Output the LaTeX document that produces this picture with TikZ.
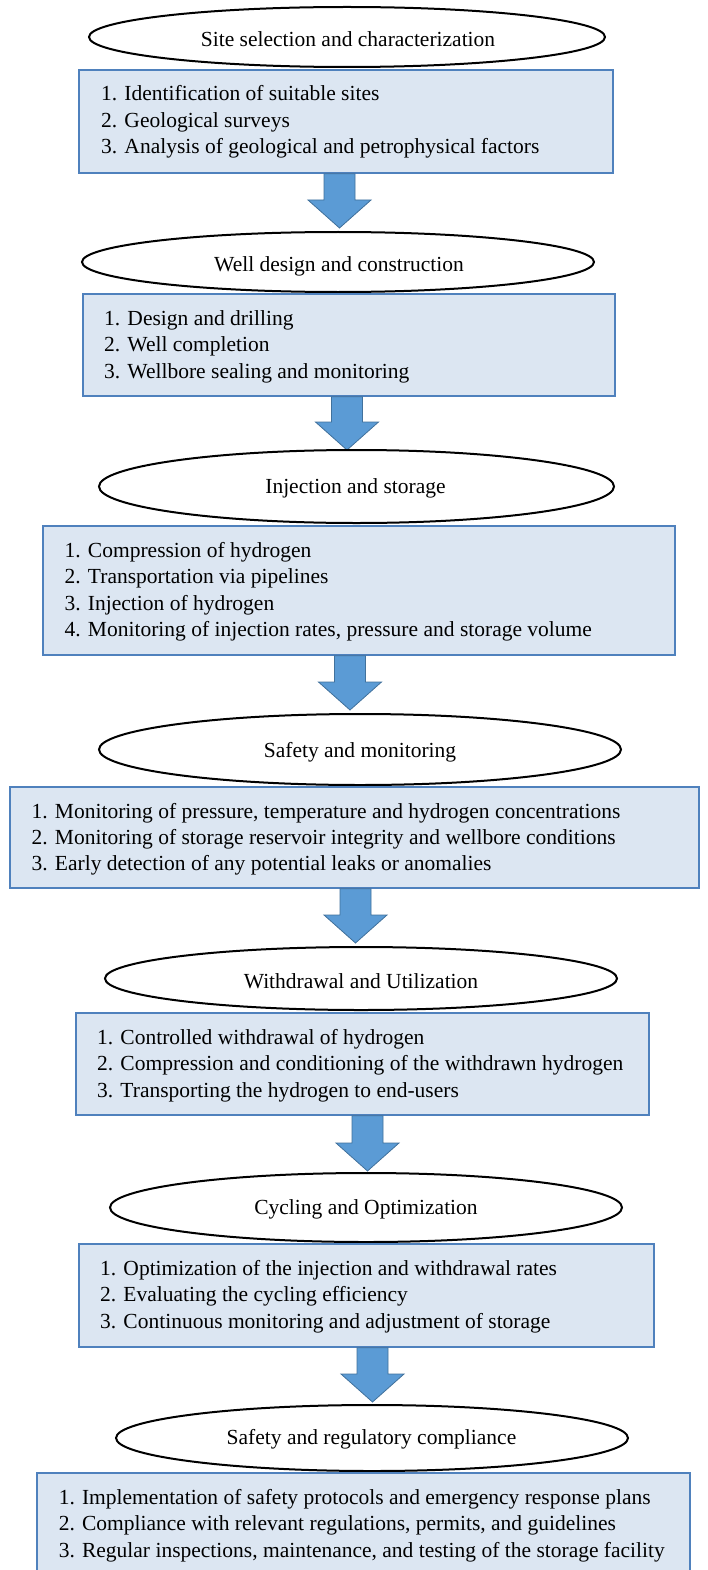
\documentclass[tikz,border=0pt]{standalone}
\usepackage{fontspec}
\setmainfont{Liberation Serif}
\usetikzlibrary{calc,shapes.geometric}
\definecolor{boxfill}{HTML}{DCE6F2}
\definecolor{boxline}{HTML}{4F81BD}
\definecolor{arrfill}{HTML}{5B9BD5}
\definecolor{arrline}{HTML}{41719C}
\newcommand\blockarrow[2]{%
  \path[barrow] let \p1=(#1), \p2=(#2) in
   (\x2-15.5pt,\y1) -- (\x2+15.5pt,\y1) -- (\x2+15.5pt,\y2+28pt) -- (\x2+31.5pt,\y2+28pt)
   -- (\x2,\y2) -- (\x2-31.5pt,\y2+28pt) -- (\x2-15.5pt,\y2+28pt) -- cycle;}
\begin{document}
\begin{tikzpicture}[x=1pt,y=-1pt,
  ell/.style={draw=black, line width=2pt, fill=white, ellipse, inner sep=0pt},
  stepbox/.style={draw=boxline, line width=1.6pt, fill=boxfill, rectangle, inner sep=0pt},
  item/.style={anchor=base west, inner sep=0pt, font=\fontsize{21.5}{26}\selectfont},
  ttl/.style={anchor=base, inner sep=0pt, font=\fontsize{21.5}{26}\selectfont},
  barrow/.style={fill=arrfill, draw=arrline, line width=0.8pt, line join=miter}]
\useasboundingbox (0,0) rectangle (707,1570);
\fill[white] (0,0) rectangle (707,1570);

% ---- stage 1
\node[ell, minimum width=516pt, minimum height=60pt] (e1) at (347,37) {};
\node[ttl] (e1t) at (348,47) {Site selection and characterization};
\node[stepbox, minimum width=534pt, minimum height=103pt] (b1) at (346,121.5) {};
\node[item] (b1a) at (101,101) {1. Identification of suitable sites};
\node[item] (b1b) at (101,127.5) {2. Geological surveys};
\node[item] (b1c) at (101,154) {3. Analysis of geological and petrophysical factors};
\coordinate (t1) at (339.5,228);
\blockarrow{b1.south}{t1}

% ---- stage 2
\node[ell, minimum width=512pt, minimum height=60pt] (e2) at (338,262) {};
\node[ttl] (e2t) at (339,272) {Well design and construction};
\node[stepbox, minimum width=532pt, minimum height=102pt] (b2) at (349,345) {};
\node[item] (b2a) at (104,325) {1. Design and drilling};
\node[item] (b2b) at (104,351.5) {2. Well completion};
\node[item] (b2c) at (104,378) {3. Wellbore sealing and monitoring};
\coordinate (t2) at (347,450);
\blockarrow{b2.south}{t2}

% ---- stage 3
\node[ell, minimum width=515pt, minimum height=73pt] (e3) at (356.5,486.5) {};
\node[ttl] (e3t) at (355.5,493) {Injection and storage};
\node[stepbox, minimum width=632pt, minimum height=129pt] (b3) at (359,590.5) {};
\node[item] (b3a) at (64.5,557) {1. Compression of hydrogen};
\node[item] (b3b) at (64.5,583.5) {2. Transportation via pipelines};
\node[item] (b3c) at (64.5,610) {3. Injection of hydrogen};
\node[item] (b3d) at (64.5,636.5) {4. Monitoring of injection rates, pressure and storage volume};
\coordinate (t3) at (350,710);
\blockarrow{b3.south}{t3}

% ---- stage 4
\node[ell, minimum width=522pt, minimum height=71pt] (e4) at (360,749.5) {};
\node[ttl] (e4t) at (360,757) {Safety and monitoring};
\node[stepbox, minimum width=689pt, minimum height=101pt] (b4) at (354.5,837.5) {};
\node[item] (b4a) at (31.5,818) {1. Monitoring of pressure, temperature and hydrogen concentrations};
\node[item] (b4b) at (31.5,844) {2. Monitoring of storage reservoir integrity and wellbore conditions};
\node[item] (b4c) at (31.5,870) {3. Early detection of any potential leaks or anomalies};
\coordinate (t4) at (355.5,943);
\blockarrow{b4.south}{t4}

% ---- stage 5
\node[ell, minimum width=512pt, minimum height=63pt] (e5) at (361,978.5) {};
\node[ttl] (e5t) at (361,988) {Withdrawal and Utilization};
\node[stepbox, minimum width=573pt, minimum height=102pt] (b5) at (362.5,1064) {};
\node[item] (b5a) at (97,1044) {1. Controlled withdrawal of hydrogen};
\node[item] (b5b) at (97,1070.5) {2. Compression and conditioning of the withdrawn hydrogen};
\node[item] (b5c) at (97,1097) {3. Transporting the hydrogen to end-users};
\coordinate (t5) at (367.5,1171);
\blockarrow{b5.south}{t5}

% ---- stage 6
\node[ell, minimum width=512pt, minimum height=69pt] (e6) at (366,1207.5) {};
\node[ttl] (e6t) at (366,1214) {Cycling and Optimization};
\node[stepbox, minimum width=575pt, minimum height=103pt] (b6) at (366.5,1295.5) {};
\node[item] (b6a) at (100,1275) {1. Optimization of the injection and withdrawal rates};
\node[item] (b6b) at (100,1301.5) {2. Evaluating the cycling efficiency};
\node[item] (b6c) at (100,1328) {3. Continuous monitoring and adjustment of storage};
\coordinate (t6) at (372.5,1402);
\blockarrow{b6.south}{t6}

% ---- stage 7
\node[ell, minimum width=512pt, minimum height=66pt] (e7) at (372,1438) {};
\node[ttl] (e7t) at (371.5,1444) {Safety and regulatory compliance};
\node[stepbox, minimum width=653pt, minimum height=107pt] (b7) at (363.5,1526.5) {};
\node[item] (b7a) at (58.6,1504) {1. Implementation of safety protocols and emergency response plans};
\node[item] (b7b) at (58.6,1530.5) {2. Compliance with relevant regulations, permits, and guidelines};
\node[item] (b7c) at (58.6,1557) {3. Regular inspections, maintenance, and testing of the storage facility};
\end{tikzpicture}
\end{document}
